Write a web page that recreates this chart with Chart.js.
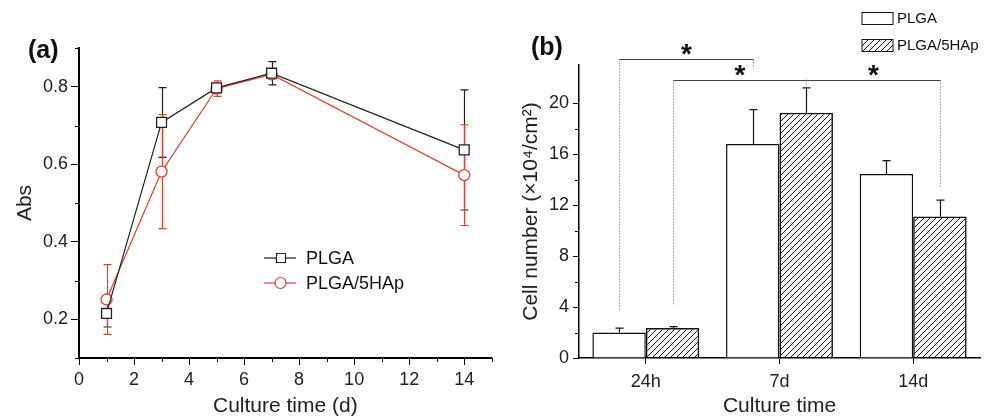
<!DOCTYPE html>
<html>
<head>
<meta charset="utf-8">
<script src="https://cdn.jsdelivr.net/npm/chart.js@4/dist/chart.umd.min.js"></script>
<style>
body { margin: 0; background: #fff; }
#wrapA { position: absolute; left: 0; top: 0; width: 500px; height: 419px; }
#wrapB { position: absolute; left: 500px; top: 0; width: 489px; height: 419px; }
</style>
</head>
<body>
<div id="wrapA"><canvas id="chartA"></canvas></div>
<div id="wrapB"><canvas id="chartB"></canvas></div>
<script>
// (a) absorbance vs culture time
var days = [1, 3, 5, 7, 14];
var absPLGA = [0.215, 0.708, 0.797, 0.835, 0.637];
var errPLGA = [0.035, 0.09, 0.01, 0.03, 0.155];
var absHAp = [0.251, 0.581, 0.795, 0.832, 0.572];
var errHAp = [0.09, 0.147, 0.02, 0.012, 0.13];

// (b) cell number (x10^4/cm2)
var times = ["24h", "7d", "14d"];
var cellPLGA = [2.0, 16.8, 14.45];
var cellErrPLGA = [0.35, 2.7, 1.05];
var cellHAp = [2.35, 19.25, 11.1];
var cellErrHAp = [0.12, 1.95, 1.3];

// significance brackets, [dataset, index] ends, heights in axis units
var brackets = [
	{from: [0, 0], to: [0, 1], level: 23.5, dropFrom: 3.75, dropTo: 22.7},
	{from: [1, 0], to: [1, 1], level: 21.85, dropFrom: 4.1, dropTo: 21.3},
	{from: [1, 1], to: [1, 2], level: 21.85, dropFrom: 21.85, dropTo: 13.4}
];

var FONT = "'Liberation Sans', Arial, sans-serif";
var RED = "#e8402f";
var BLACK = "#222";

function hatch() {
	var c = document.createElement("canvas");
	c.width = 6; c.height = 6;
	var g = c.getContext("2d");
	g.strokeStyle = "#111";
	g.lineWidth = 1;
	g.beginPath();
	g.moveTo(0, 6); g.lineTo(6, 0);
	g.moveTo(-1, 1); g.lineTo(1, -1);
	g.moveTo(5, 7); g.lineTo(7, 5);
	g.stroke();
	return g.createPattern(c, "repeat");
}
var hatchFill = hatch();

function points(xs, ys) {
	var out = [];
	for (var i = 0; i < xs.length; i++) out.push({x: xs[i], y: ys[i]});
	return out;
}

// draws error bars from dataset.errors
function drawErrors(chart, upOnly) {
	var ctx = chart.ctx;
	var ys = chart.scales.y;
	chart.data.datasets.forEach(function(ds, d) {
		var meta = chart.getDatasetMeta(d);
		ctx.save();
		ctx.strokeStyle = ds.errorColor;
		ctx.lineWidth = 1.2;
		meta.data.forEach(function(el, i) {
			var v = ds.data[i];
			v = (typeof v == "object") ? v.y : v;
			var e = ds.errors[i];
			var top = ys.getPixelForValue(v + e);
			var bot = upOnly ? ys.getPixelForValue(v) : ys.getPixelForValue(v - e);
			var x = Math.round(el.x) + 0.5;
			ctx.beginPath();
			ctx.moveTo(x, bot); ctx.lineTo(x, top);
			ctx.moveTo(x - 4, top); ctx.lineTo(x + 4, top);
			if (!upOnly) { ctx.moveTo(x - 4, bot); ctx.lineTo(x + 4, bot); }
			ctx.stroke();
		});
		ctx.restore();
	});
}

// short minor tick marks for unlabeled ticks
function drawMinor(chart) {
	var ctx = chart.ctx;
	ctx.save();
	ctx.strokeStyle = "#000";
	ctx.lineWidth = 1;
	var xs = chart.scales.x, ys = chart.scales.y;
	if (xs.options.minor) {
		xs.ticks.forEach(function(t) {
			if (t.label !== "") return;
			var px = Math.round(xs.getPixelForValue(t.value)) + 0.5;
			ctx.beginPath(); ctx.moveTo(px, xs.top); ctx.lineTo(px, xs.top + 4); ctx.stroke();
		});
	}
	ys.ticks.forEach(function(t) {
		if (t.label !== "") return;
		var py = Math.round(ys.getPixelForValue(t.value)) + 0.5;
		ctx.beginPath(); ctx.moveTo(ys.right, py); ctx.lineTo(ys.right - 4, py); ctx.stroke();
	});
	ctx.restore();
}

var plotA = {
	id: "plotA",
	beforeDatasetsDraw: function(chart) { drawErrors(chart, false); },
	afterDraw: function(chart) {
		var ctx = chart.ctx;
		drawMinor(chart);
		ctx.save();
		ctx.fillStyle = "#111";
		ctx.font = "bold 25px " + FONT;
		ctx.textBaseline = "middle";
		ctx.fillText("(a)", 28, 51);
		// legend
		ctx.font = "18px " + FONT;
		chart.data.datasets.forEach(function(ds, i) {
			var y = 258 + i * 25;
			ctx.strokeStyle = ds.borderColor;
			ctx.lineWidth = 1.2;
			ctx.beginPath(); ctx.moveTo(264, y); ctx.lineTo(296, y); ctx.stroke();
			ctx.fillStyle = "#fff";
			ctx.beginPath();
			if (ds.pointStyle == "rect") ctx.rect(276.5, y - 4.5, 9, 9);
			else ctx.arc(280.5, y, 5.5, 0, Math.PI * 2);
			ctx.fill(); ctx.stroke();
			ctx.fillStyle = "#111";
			ctx.fillText(ds.label, 306, y + 1);
		});
		ctx.restore();
	}
};

var plotB = {
	id: "plotB",
	afterDatasetsDraw: function(chart) { drawErrors(chart, true); },
	afterDraw: function(chart) {
		var ctx = chart.ctx;
		var ys = chart.scales.y;
		drawMinor(chart);
		ctx.save();
		ctx.fillStyle = "#111";
		ctx.font = "bold 25px " + FONT;
		ctx.textBaseline = "middle";
		ctx.fillText("(b)", 31, 48);
		// brackets
		brackets.forEach(function(b) {
			var x1 = Math.round(chart.getDatasetMeta(b.from[0]).data[b.from[1]].x) + 0.5;
			var x2 = Math.round(chart.getDatasetMeta(b.to[0]).data[b.to[1]].x) + 0.5;
			var yl = Math.round(ys.getPixelForValue(b.level)) + 0.5;
			ctx.strokeStyle = "#444";
			ctx.lineWidth = 1;
			ctx.setLineDash([]);
			ctx.beginPath(); ctx.moveTo(x1, yl); ctx.lineTo(x2, yl); ctx.stroke();
			ctx.setLineDash([1, 2]);
			ctx.strokeStyle = "#666";
			ctx.beginPath();
			ctx.moveTo(x1, yl); ctx.lineTo(x1, ys.getPixelForValue(b.dropFrom));
			ctx.moveTo(x2, yl); ctx.lineTo(x2, ys.getPixelForValue(b.dropTo));
			ctx.stroke();
			ctx.setLineDash([]);
			ctx.font = "bold 28px " + FONT;
			ctx.textAlign = "center";
			ctx.textBaseline = "alphabetic";
			ctx.fillText("*", (x1 + x2) / 2, yl + 3);
		});
		// legend
		ctx.textAlign = "left";
		ctx.textBaseline = "middle";
		ctx.font = "15px " + FONT;
		chart.data.datasets.forEach(function(ds, i) {
			var y = 12.5 + i * 27;
			ctx.fillStyle = ds.backgroundColor;
			ctx.fillRect(362, y, 31, 12);
			ctx.strokeStyle = "#111";
			ctx.lineWidth = 1;
			ctx.strokeRect(362, y, 31, 12);
			ctx.fillStyle = "#111";
			ctx.fillText(ds.label, 397, y + 6);
		});
		ctx.restore();
	}
};

function tickFont() { return {family: FONT, size: 18}; }

new Chart(document.getElementById("chartA"), {
	type: "line",
	data: {
		datasets: [
			{label: "PLGA", data: points(days, absPLGA), errors: errPLGA, errorColor: BLACK,
				borderColor: BLACK, borderWidth: 1.2, pointStyle: "rect", pointRadius: 7,
				pointBackgroundColor: "#fff", pointBorderColor: BLACK, pointBorderWidth: 1.3},
			{label: "PLGA/5HAp", data: points(days, absHAp), errors: errHAp, errorColor: RED,
				borderColor: RED, borderWidth: 1.2, pointStyle: "circle", pointRadius: 5.5,
				pointBackgroundColor: "#fff", pointBorderColor: RED, pointBorderWidth: 1.3}
		]
	},
	options: {
		responsive: true, maintainAspectRatio: false, animation: false,
		layout: {padding: {left: 0, top: 48, right: 5, bottom: 0}},
		plugins: {legend: {display: false}, tooltip: {enabled: false}},
		scales: {
			x: {
				type: "linear", min: 0, max: 15, minor: true,
				afterFit: function(s) { s.height = 61; },
				ticks: {stepSize: 1, autoSkip: false, maxRotation: 0, padding: 4, color: "#222", font: tickFont(),
					callback: function(v) { return v % 2 === 0 ? String(v) : ""; }},
				grid: {drawOnChartArea: false, tickLength: 7,
					color: function(c) { return c.tick && c.tick.value % 2 === 0 ? "#000" : "rgba(0,0,0,0)"; }},
				border: {color: "#000", width: 2},
				title: {display: true, text: "Culture time (d)", color: "#222", font: {family: FONT, size: 21}, padding: {top: 0, bottom: 0}}
			},
			y: {
				min: 0.1, max: 0.9,
				afterFit: function(s) { s.width = 79; },
				ticks: {stepSize: 0.1, autoSkip: false, padding: 3, color: "#222", font: tickFont(),
					callback: function(v) { var k = Math.round(v * 10); return k % 2 === 0 ? (k / 10).toFixed(1) : ""; }},
				grid: {drawOnChartArea: false, tickLength: 8,
					color: function(c) { return c.tick && Math.round(c.tick.value * 10) % 2 === 0 ? "#000" : "rgba(0,0,0,0)"; }},
				border: {color: "#000", width: 2},
				title: {display: true, text: "Abs", color: "#222", font: {family: FONT, size: 21}, padding: {top: 13, bottom: 0}}
			}
		}
	},
	plugins: [plotA]
});

new Chart(document.getElementById("chartB"), {
	type: "bar",
	data: {
		labels: times,
		datasets: [
			{label: "PLGA", data: cellPLGA, errors: cellErrPLGA, errorColor: "#111",
				backgroundColor: "#fff", borderColor: "#111", borderWidth: 1.5},
			{label: "PLGA/5HAp", data: cellHAp, errors: cellErrHAp, errorColor: "#111",
				backgroundColor: hatchFill, borderColor: "#111", borderWidth: 1.5}
		]
	},
	options: {
		responsive: true, maintainAspectRatio: false, animation: false,
		layout: {padding: {left: 0, top: 65, right: 9, bottom: 0}},
		categoryPercentage: 0.8, barPercentage: 1.0,
		plugins: {legend: {display: false}, tooltip: {enabled: false}},
		scales: {
			x: {
				afterFit: function(s) { s.height = 61; },
				ticks: {padding: 7, color: "#222", font: tickFont(), maxRotation: 0},
				grid: {drawOnChartArea: false, offset: false, tickLength: 6, color: "#000"},
				border: {color: "#000", width: 1.5},
				title: {display: true, text: "Culture time", color: "#222", font: {family: FONT, size: 21}, padding: {top: 0, bottom: 0}}
			},
			y: {
				min: 0, max: 23,
				afterFit: function(s) { s.width = 79; },
				afterBuildTicks: function(s) { s.ticks = s.ticks.filter(function(t) { return t.value % 2 === 0; }); },
				ticks: {stepSize: 2, autoSkip: false, padding: 4, color: "#222", font: tickFont(),
					callback: function(v) { return v % 4 === 0 ? String(v) : ""; }},
				grid: {drawOnChartArea: false, tickLength: 6,
					color: function(c) { return c.tick && c.tick.value % 4 === 0 ? "#000" : "rgba(0,0,0,0)"; }},
				border: {color: "#000", width: 1.5},
				title: {display: true, text: "Cell number (×10⁴/cm²)", color: "#222", font: {family: FONT, size: 21}, padding: {top: 19, bottom: 0}}
			}
		}
	},
	plugins: [plotB]
});
</script>
</body>
</html>
